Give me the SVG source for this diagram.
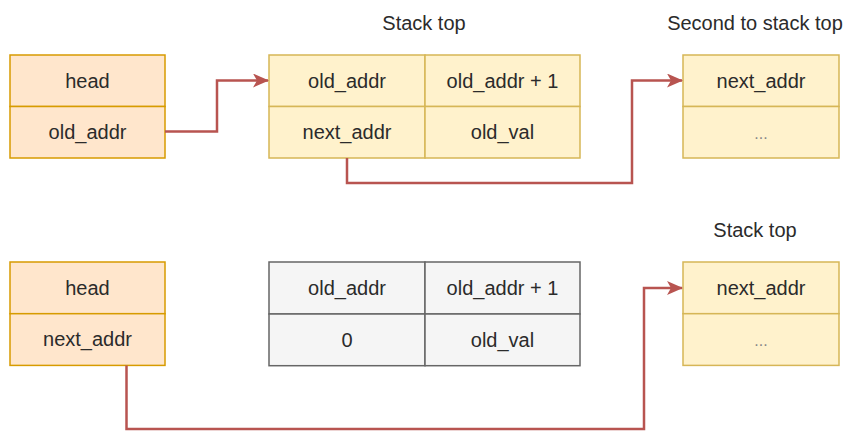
<svg xmlns="http://www.w3.org/2000/svg" width="848" height="431" viewBox="0 0 848 431">
<style>
text{font-family:"Liberation Sans",Arial,sans-serif;font-size:20px;fill:#2b2b2b;text-anchor:middle}
.o{fill:#ffe6cc;stroke:#d79b00;stroke-width:1.5}
.y{fill:#fff2cc;stroke:#d6b656;stroke-width:1.5}
.g{fill:#f5f5f5;stroke:#666666;stroke-width:1.5}
.e{fill:none;stroke:#b85450;stroke-width:2.5}
.d{fill:#888888}
</style>
<defs>
<marker id="ar" viewBox="0 0 16 14" refX="15" refY="7" markerWidth="16" markerHeight="14" markerUnits="userSpaceOnUse" orient="auto">
<path d="M0,0 L16,7 L0,14 L4,7 Z" fill="#b85450"/>
</marker>
</defs>
<rect width="848" height="431" fill="#ffffff"/>
<g id="labels">
<text x="424" y="30">Stack top</text>
<text x="755" y="30">Second to stack top</text>
<text x="755" y="237">Stack top</text>
</g>
<g id="head1">
<rect class="o" x="10" y="55" width="155" height="51.5"/>
<rect class="o" x="10" y="106.5" width="155" height="51.5"/>
<text x="87.5" y="88">head</text>
<text x="87.5" y="139">old_addr</text>
</g>
<g id="top1">
<rect class="y" x="269" y="55" width="156" height="51.5"/>
<rect class="y" x="425" y="55" width="155" height="51.5"/>
<rect class="y" x="269" y="106.5" width="156" height="51.5"/>
<rect class="y" x="425" y="106.5" width="155" height="51.5"/>
<text x="347" y="88">old_addr</text>
<text x="502.5" y="88">old_addr + 1</text>
<text x="347" y="139">next_addr</text>
<text x="502.5" y="139">old_val</text>
</g>
<g id="second1">
<rect class="y" x="683" y="55" width="156" height="51.5"/>
<rect class="y" x="683" y="106.5" width="156" height="51.5"/>
<text x="761" y="88">next_addr</text>
<text class="d" x="761" y="139" style="font-size:16px">...</text>
</g>
<g id="head2">
<rect class="o" x="10" y="262" width="155" height="51.7"/>
<rect class="o" x="10" y="313.7" width="155" height="51.7"/>
<text x="87.5" y="295">head</text>
<text x="87.5" y="346">next_addr</text>
</g>
<g id="old2">
<rect class="g" x="269" y="262" width="156" height="52"/>
<rect class="g" x="425" y="262" width="155" height="52"/>
<rect class="g" x="269" y="314" width="156" height="51.7"/>
<rect class="g" x="425" y="314" width="155" height="51.7"/>
<text x="347" y="295">old_addr</text>
<text x="502.5" y="295">old_addr + 1</text>
<text x="347" y="347">0</text>
<text x="502.5" y="347">old_val</text>
</g>
<g id="top2">
<rect class="y" x="683" y="262" width="156" height="51.7"/>
<rect class="y" x="683" y="313.7" width="156" height="51.7"/>
<text x="761" y="295">next_addr</text>
<text class="d" x="761" y="346" style="font-size:16px">...</text>
</g>
<g id="connectors">
<path class="e" d="M165,131.5 H217 V80.5 H268" marker-end="url(#ar)"/>
<path class="e" d="M347,158 V183 H632 V80.5 H682" marker-end="url(#ar)"/>
<path class="e" d="M126.5,365.5 V429 H644 V288 H682" marker-end="url(#ar)"/>
</g>
</svg>
